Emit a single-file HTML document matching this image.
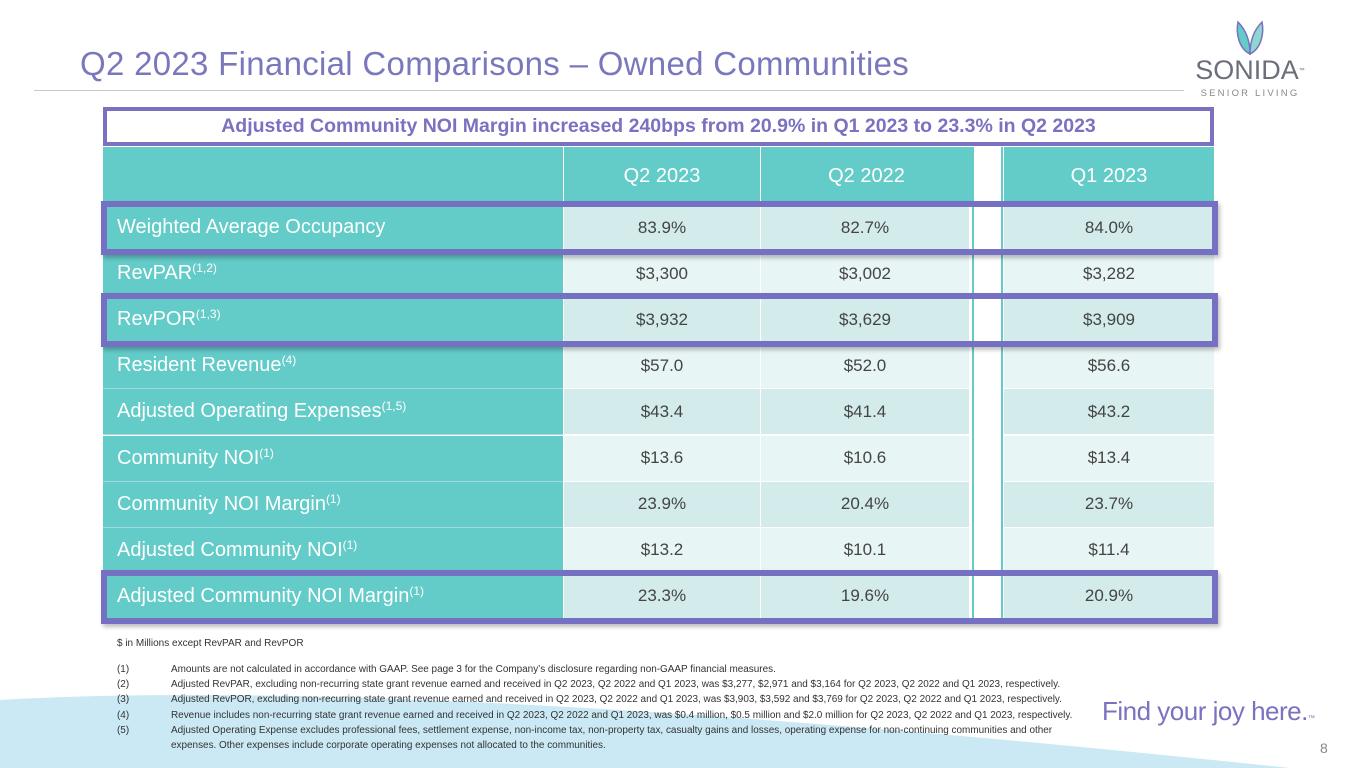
<!DOCTYPE html>
<html><head><meta charset="utf-8">
<style>
body{margin:0;width:1365px;height:768px;overflow:hidden;background:#fff;font-family:"Liberation Sans",sans-serif;position:relative}
.abs{position:absolute}
#title{left:80px;top:45px;font-size:33px;color:#7a78bd;letter-spacing:0.3px}
#rule{left:34px;top:90px;width:1150px;height:1px;background:#c8c8c8}
#banner{left:103px;top:107px;width:1103px;height:31px;border:4px solid #7a72c0;background:#fff;color:#7a72c0;font-weight:bold;font-size:19.5px;text-align:center;line-height:31px}
.cell{position:absolute;box-sizing:border-box;font-size:17px;color:#444;display:flex;align-items:center;justify-content:center}
.lab{color:#fff;justify-content:flex-start;padding-left:14px;font-size:20px;background:#63cbc8}
.hd{color:#fff;font-size:20px;background:#63cbc8}
sup{font-size:12px;vertical-align:7px;line-height:0}
.hl{position:absolute;left:101px;width:1105px;border:6px solid #7670c2;box-sizing:content-box;box-shadow:2px 3px 4px rgba(0,0,0,.25)}
#foot{left:117px;top:636px;font-size:10px;color:#333;line-height:15.2px}
.fn{position:absolute;left:117px;font-size:9.95px;color:#333}
</style></head><body>
<svg class="abs" style="left:0;top:0" width="1365" height="768"><path d="M0,700 Q420,676 1290,768 L0,768 Z" fill="#cbe9f4"/></svg>
<div id="title" class="abs">Q2 2023 Financial Comparisons – Owned Communities</div>
<div id="rule" class="abs"></div>
<div class="abs" style="left:1195px;top:18px;width:110px;height:85px;text-align:center">
<svg width="40" height="38" style="display:block;margin:0 auto"><path d="M20,36 C8,30 6,14 8,4 C14,10 20,20 20,36Z" fill="#63cbc8" stroke="#7a72c0" stroke-width="1.5"/><path d="M20,36 C32,30 34,14 32,4 C26,10 20,20 20,36Z" fill="#8fd6d3" stroke="#7a72c0" stroke-width="1.5"/></svg>
<div style="font-size:27px;color:#6a6f7a;letter-spacing:0px;line-height:28px">SONIDA<sup style="font-size:6px">™</sup></div>
<div style="font-size:9.5px;color:#888;letter-spacing:2.2px;margin-top:4px">SENIOR LIVING</div></div>
<div id="banner" class="abs">Adjusted Community NOI Margin increased 240bps from 20.9% in Q1 2023 to 23.3% in Q2 2023</div>
<div id="table"></div>
<div id="foot" class="abs">$ in Millions except RevPAR and RevPOR</div>
<div id="notes"></div>
<div class="abs" style="left:1102px;top:696px;font-size:26px;color:#7a72c0;letter-spacing:-0.5px">Find your joy here.<span style="font-size:7px">™</span></div>
<div class="abs" style="left:1320px;top:740px;font-size:14px;color:#888">8</div>
<script>
const headers=["Q2 2023","Q2 2022","Q1 2023"];
const labels=["Weighted Average Occupancy","RevPAR","RevPOR","Resident Revenue","Adjusted Operating Expenses","Community NOI","Community NOI Margin","Adjusted Community NOI","Adjusted Community NOI Margin"];
const sups=["","(1,2)","(1,3)","(4)","(1,5)","(1)","(1)","(1)","(1)"];
const colQ22023=["83.9%","$3,300","$3,932","$57.0","$43.4","$13.6","23.9%","$13.2","23.3%"];
const colQ22022=["82.7%","$3,002","$3,629","$52.0","$41.4","$10.6","20.4%","$10.1","19.6%"];
const colQ12023=["84.0%","$3,282","$3,909","$56.6","$43.2","$13.4","23.7%","$11.4","20.9%"];
const highlighted=[0,2,8];
const notes=["Amounts are not calculated in accordance with GAAP. See page 3 for the Company’s disclosure regarding non-GAAP financial measures.","Adjusted RevPAR, excluding non-recurring state grant revenue earned and received in Q2 2023, Q2 2022 and Q1 2023, was $3,277, $2,971 and $3,164 for Q2 2023, Q2 2022 and Q1 2023, respectively.","Adjusted RevPOR, excluding non-recurring state grant revenue earned and received in Q2 2023, Q2 2022 and Q1 2023, was $3,903, $3,592 and $3,769 for Q2 2023, Q2 2022 and Q1 2023, respectively.","Revenue includes non-recurring state grant revenue earned and received in Q2 2023, Q2 2022 and Q1 2023, was $0.4 million, $0.5 million and $2.0 million for Q2 2023, Q2 2022 and Q1 2023, respectively.","Adjusted Operating Expense excludes professional fees, settlement expense, non-income tax, non-property tax, casualty gains and losses, operating expense for non-continuing communities and other<br>expenses.  Other expenses include corporate operating expenses not allocated to the communities."];
const cols=[colQ22023,colQ22022,colQ12023];
const T=document.body;
const colX=[103,563,760,1003],colW=[460,197,212,211];
const top0=147,headH=58,rowH=46.1;
function mk(cls,x,y,w,h,html,bg){const d=document.createElement('div');d.className='cell '+cls;d.style.left=x+'px';d.style.top=y+'px';d.style.width=w+'px';d.style.height=h+'px';if(bg)d.style.background=bg;d.innerHTML=html;T.appendChild(d);return d;}
let e=mk('hd',colX[0],top0,colW[0],headH,'');


e=mk('hd',972,top0,31,headH+rowH*9+1,'','#fff');
e.style.borderLeft='2px solid #63cbc8';e.style.borderRight='2px solid #63cbc8';


headers.forEach((h,i)=>{const x=colX[i+1],w=(i==1?212:colW[i+1]);const c=mk('hd',x,top0,w,headH,h);c.style.borderLeft='1px solid #fff';

});
labels.forEach((l,r)=>{const y=top0+headH+r*rowH;const bg=r%2==0?'#d3ebeb':'#e8f5f5';
const c=mk('lab',colX[0],y,colW[0],rowH,'<span>'+l+(sups[r]?'<sup>'+sups[r]+'</sup>':'')+'</span>');c.style.borderBottom='1px solid #9ddcda';


cols.forEach((col,i)=>{const x=colX[i+1];const w=i==1?209:colW[i+1];const v=mk('',x,y,w,rowH,col[r],bg);v.style.borderLeft='1px solid #fff';v.style.borderBottom='1px solid #fff';

});});
highlighted.forEach(r=>{const d=document.createElement('div');d.className='hl';d.style.top=(top0+headH+r*rowH-4)+'px';d.style.height=(rowH-4)+'px';


T.appendChild(d);});
notes.forEach((n,i)=>{const a=document.createElement('div');a.className='fn';a.style.top=(662+i*15.2)+'px';a.style.lineHeight='15.2px';
a.innerHTML='<span style="display:inline-block;width:54px">('+(i+1)+')</span><span style="display:inline-block;vertical-align:top;white-space:nowrap">'+n+'</span>';


T.appendChild(a);});
</script>
</body></html>
